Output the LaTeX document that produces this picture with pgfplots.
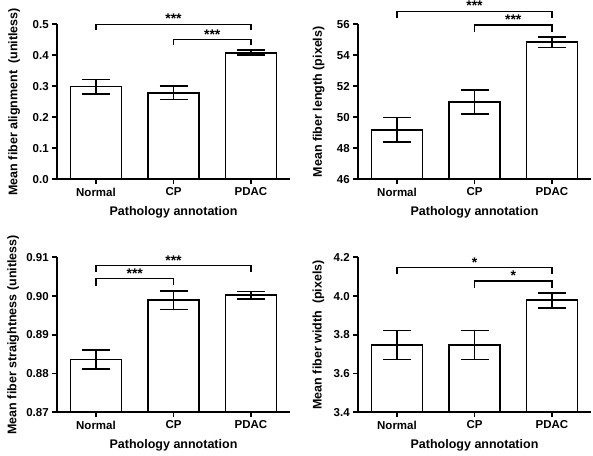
\documentclass[border=0pt]{standalone}
\usepackage{fontspec}
\setmainfont{Liberation Sans}
\usepackage{pgfplots}
\pgfplotsset{compat=1.18}
\pgfplotsset{
  myax/.style={
    scale only axis, width=232.5pt, height=155pt,
    xmin=-0.5, xmax=2.5,
    axis lines=left, axis line style={-, line width=1.7pt, black},
    xtick={0,1,2}, xticklabels={Normal,CP,PDAC},
    tick align=outside, major tick length=5pt,
    tick style={line width=1.7pt, black},
    ticklabel style={font=\fontsize{11.5}{13}\selectfont\bfseries},
    label style={font=\fontsize{12.5}{14}\selectfont\bfseries},
    xlabel={Pathology annotation},
    xlabel style={at={(axis description cs:0.5,-0.21)}, anchor=center},
    clip mode=individual,
    /pgf/number format/assume math mode=true,
    /pgf/number format/fixed, /pgf/number format/fixed zerofill,
  },
  mybar/.style={ybar, bar width=51pt, fill=white, draw=black, line width=1.7pt,
    error bars/.cd, y dir=both, y explicit,
    error bar style={line width=1.7pt, black},
    error mark options={rotate=90, mark size=14pt, line width=1.7pt, black}},
}
\tikzset{
  brk/.style={line width=1.3pt, black},
  stars/.style={font=\fontsize{14}{15}\selectfont\bfseries, anchor=base, inner sep=0pt, yshift=0.3pt},
}
\begin{document}
\begin{tikzpicture}
\useasboundingbox (0,0) rectangle (593pt,455pt);
% Panel 1
\begin{axis}[myax, at={(57.25pt,275.7pt)}, anchor=south west,
  ymin=0, ymax=0.5, ytick={0,0.1,0.2,0.3,0.4,0.5},
  yticklabel style={/pgf/number format/precision=1},
  ylabel={Mean fiber alignment\ \ (unitless)},
  ylabel style={at={(axis description cs:-0.185,0.5)}, anchor=center}]
\addplot[mybar] coordinates {(0,0.299) +- (0,0.023) (1,0.279) +- (0,0.022) (2,0.408) +- (0,0.008)};
\draw[brk] (axis cs:0,0.480) -- (axis cs:0,0.500) -- (axis cs:2,0.500) -- (axis cs:2,0.480);
\draw[brk] (axis cs:1,0.432) -- (axis cs:1,0.4516) -- (axis cs:2,0.4516) -- (axis cs:2,0.432);
\node[stars] at (axis cs:1,0.500) {***};
\node[stars] at (axis cs:1.5,0.4516) {***};
\end{axis}
% Panel 2
\begin{axis}[myax, at={(358.25pt,275.7pt)}, anchor=south west,
  ymin=46, ymax=56, ytick={46,48,50,52,54,56},
  yticklabel style={/pgf/number format/precision=0},
  ylabel={Mean fiber length (pixels)},
  ylabel style={at={(axis description cs:-0.17,0.5)}, anchor=center}]
\addplot[mybar] coordinates {(0,49.2) +- (0,0.78) (1,51.0) +- (0,0.77) (2,54.85) +- (0,0.35)};
\draw[brk] (axis cs:0,56.39) -- (axis cs:0,56.84) -- (axis cs:2,56.84) -- (axis cs:2,56.39);
\draw[brk] (axis cs:1,55.49) -- (axis cs:1,55.96) -- (axis cs:2,55.96) -- (axis cs:2,55.49);
\node[stars] at (axis cs:1,56.84) {***};
\node[stars] at (axis cs:1.5,55.96) {***};
\end{axis}
% Panel 3
\begin{axis}[myax, at={(57.25pt,42.7pt)}, anchor=south west,
  ymin=0.87, ymax=0.91, ytick={0.87,0.88,0.89,0.90,0.91},
  yticklabel style={/pgf/number format/precision=2},
  ylabel={Mean fiber straightness (unitless)},
  ylabel style={at={(axis description cs:-0.19,0.5)}, anchor=center}]
\addplot[mybar] coordinates {(0,0.8836) +- (0,0.0024) (1,0.8989) +- (0,0.0024) (2,0.9002) +- (0,0.0010)};
\draw[brk] (axis cs:0,0.90627) -- (axis cs:0,0.90783) -- (axis cs:2,0.90783) -- (axis cs:2,0.90627);
\draw[brk] (axis cs:0,0.90254) -- (axis cs:0,0.90453) -- (axis cs:1,0.90453) -- (axis cs:1,0.9028);
\node[stars] at (axis cs:1,0.90783) {***};
\node[stars] at (axis cs:0.5,0.90453) {***};
\end{axis}
% Panel 4
\begin{axis}[myax, at={(358.25pt,42.7pt)}, anchor=south west,
  ymin=3.4, ymax=4.2, ytick={3.4,3.6,3.8,4.0,4.2},
  yticklabel style={/pgf/number format/precision=1},
  ylabel={Mean fiber width\ \ (pixels)},
  ylabel style={at={(axis description cs:-0.171,0.5)}, anchor=center}]
\addplot[mybar] coordinates {(0,3.747) +- (0,0.075) (1,3.747) +- (0,0.075) (2,3.978) +- (0,0.038)};
\draw[brk] (axis cs:0,4.112) -- (axis cs:0,4.1465) -- (axis cs:2,4.1465) -- (axis cs:2,4.112);
\draw[brk] (axis cs:1,4.042) -- (axis cs:1,4.077) -- (axis cs:2,4.077) -- (axis cs:2,4.042);
\node[stars] at (axis cs:1,4.1465) {*};
\node[stars] at (axis cs:1.5,4.077) {*};
\end{axis}
\end{tikzpicture}
\end{document}
